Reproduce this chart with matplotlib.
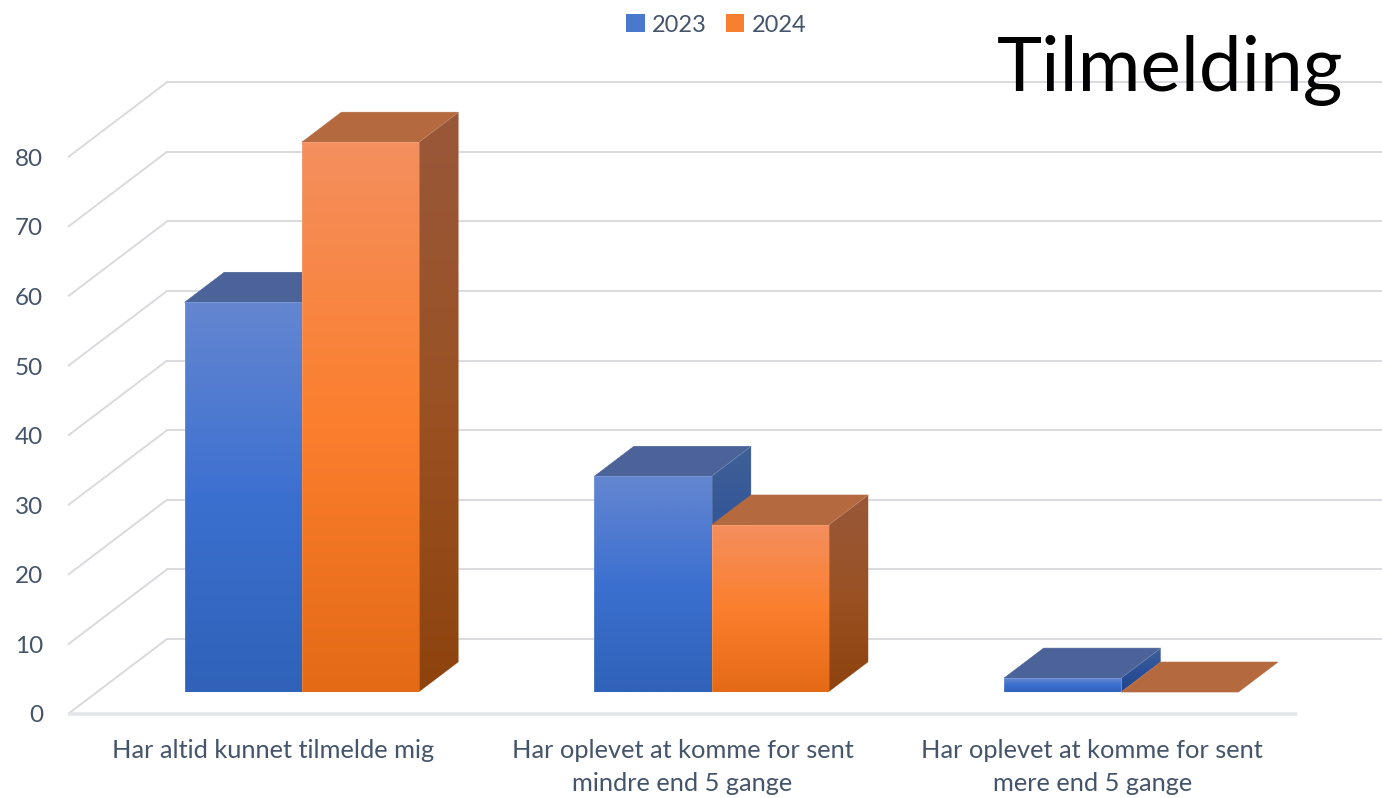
import numpy as np
import matplotlib
matplotlib.use('Agg')
import matplotlib.pyplot as plt
from matplotlib.colors import LinearSegmentedColormap
from matplotlib.patches import Polygon, Patch

# data
categories = ['Har altid kunnet tilmelde mig',
              'Har oplevet at komme for sent\nmindre end 5 gange',
              'Har oplevet at komme for sent\nmere end 5 gange']
years = ['2023', '2024']
values_2023 = [56, 31, 2]
values_2024 = [79, 24, 0]
yticks = [0, 10, 20, 30, 40, 50, 60, 70, 80]

plt.rcParams['font.family'] = ['Lato', 'DejaVu Sans']

W, H = 1382, 798
X0, FLOOR = 68, 714
CAT_W, PX_PER_UNIT = 409.67, 6.96
# full depth of the floor in data units
DX, DY = 99 / CAT_W, 75 / PX_PER_UNIT
BAR_W = 0.286
D_FRONT, D_BACK = 0.293, 0.693

front_cols = [['#6486d0', '#3c70d0', '#2f62b8'], ['#f48f5e', '#fb7f2e', '#e56a16']]
side_cols = [['#3f5f96', '#2c5199', '#1f4488'], ['#99583a', '#9a5224', '#8e430e']]
top_cols = ['#4b6399', '#b5693f']
text_col = '#44546a'
grid_col = '#d9dade'

fig = plt.figure(figsize=(W / 100, H / 100), dpi=100)
ax = fig.add_axes([X0 / W, (H - FLOOR) / H, 1 - X0 / W, FLOOR / H])
ax.set_xlim(0, (W - X0) / CAT_W)
ax.set_ylim(0, FLOOR / PX_PER_UNIT)


def pt(x, v, d):
    return (x + d * DX, v + d * DY)


z = [3]


def flat(corners, col):
    z[0] += 1
    ax.add_patch(Polygon(corners, closed=True, fc=col, ec=col, lw=0.4, zorder=z[0]))


def grad(corners, cols):
    z[0] += 1
    cmap = LinearSegmentedColormap.from_list('g', cols)
    xs = [c[0] for c in corners]
    ys = [c[1] for c in corners]
    im = ax.imshow(np.linspace(0, 1, 128).reshape(-1, 1), cmap=cmap, aspect='auto', origin='upper',
                   extent=[min(xs), max(xs), min(ys), max(ys)], zorder=z[0], interpolation='bilinear')
    poly = Polygon(corners, closed=True, transform=ax.transData, fc='none', ec='none')
    ax.add_patch(poly)
    im.set_clip_path(poly)
    z[0] += 1
    ax.add_patch(Polygon(corners, closed=True, fc='none', ec='#ffffff', lw=0.4, alpha=0.25, zorder=z[0]))


# back wall, side wall and floor
for t in yticks:
    ax.plot([pt(0, t, 0)[0], pt(0, t, 1)[0]], [pt(0, t, 0)[1], pt(0, t, 1)[1]],
            color=grid_col, lw=1.4, zorder=1, clip_on=False, solid_capstyle='butt')
    ax.plot([pt(0, t, 1)[0], ax.get_xlim()[1]], [pt(0, t, 1)[1]] * 2, color=grid_col, lw=1.4, zorder=1)
ax.plot([0, len(categories)], [0, 0], color='#e3e5e8', lw=2.6, zorder=2, clip_on=False, solid_capstyle='butt')

# bars
for i in range(len(categories)):
    for s, vals in enumerate([values_2023, values_2024]):
        x1 = i + 0.5 - BAR_W + s * BAR_W
        x2 = x1 + BAR_W
        v = vals[i]
        flat([pt(x1, v, D_FRONT), pt(x2, v, D_FRONT), pt(x2, v, D_BACK), pt(x1, v, D_BACK)], top_cols[s])
        if v > 0:
            grad([pt(x2, 0, D_FRONT), pt(x2, v, D_FRONT), pt(x2, v, D_BACK), pt(x2, 0, D_BACK)], side_cols[s])
            grad([pt(x1, 0, D_FRONT), pt(x2, 0, D_FRONT), pt(x2, v, D_FRONT), pt(x1, v, D_FRONT)], front_cols[s])

ax.set_xlim(0, (W - X0) / CAT_W)
ax.set_ylim(0, FLOOR / PX_PER_UNIT)

for sp in ax.spines.values():
    sp.set_visible(False)
ax.patch.set_visible(False)
ax.set_yticks(yticks)
ax.set_yticklabels([str(t) for t in yticks], fontsize=17.5, color=text_col)
ax.set_xticks([i + 0.5 for i in range(len(categories))])
ax.set_xticklabels(categories, fontsize=18.3, color=text_col, linespacing=1.55)
ax.tick_params(axis='y', length=0, pad=18)
ax.tick_params(axis='x', length=0, pad=18)

handles = [Patch(fc='#4a78cc', label=years[0]), Patch(fc='#f6802f', label=years[1])]
fig.legend(handles=handles, loc='center', bbox_to_anchor=(716 / W, 1 - 25 / H), ncols=2, frameon=False,
           fontsize=17, labelcolor=text_col, handlelength=0.8, handleheight=0.8,
           handletextpad=0.3, columnspacing=0.8)

fig.text(1343 / W, 1 - 91 / H, 'Tilmelding', fontsize=55, color='black', ha='right', va='baseline', zorder=20)

fig.savefig('out.png', dpi=100)
